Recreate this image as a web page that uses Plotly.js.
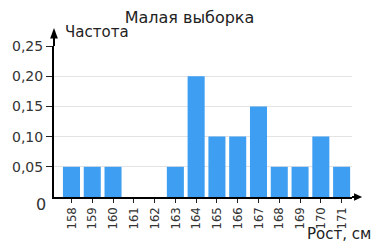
<!DOCTYPE html>
<html><head><meta charset="utf-8">
<script src="https://cdn.plot.ly/plotly-3.0.1.min.js"></script>
<style>html,body{margin:0;padding:0;background:#fff}#c{width:379px;height:242px}</style>
</head><body><div id="c"></div>
<script>
const heights = [158,159,160,161,162,163,164,165,166,167,168,169,170,171];
const freq = [0.05,0.05,0.05,0,0,0.05,0.20,0.10,0.10,0.15,0.05,0.05,0.10,0.05];
const yTicks = [0.05,0.10,0.15,0.20,0.25];
const fnt = '"DejaVu Sans", sans-serif';
const fntNarrow = '"Liberation Sans Narrow", "DejaVu Sans Condensed", sans-serif';

const data = [{
  type:'bar', x:heights, y:freq, width:0.82,
  marker:{color:'#3d9ef2'}, hoverinfo:'none'
}];
const layout = {
  width:379, height:242,
  margin:{l:54, r:27, t:46, b:45},
  paper_bgcolor:'#fff', plot_bgcolor:'#fff',
  separators:', ',
  showlegend:false,
  title:{text:'Малая выборка', x:0.5, xanchor:'center', y:0.93, yanchor:'middle',
         font:{family:fnt, size:16, color:'#222'}},
  xaxis:{range:[157.16,171.5], tickvals:heights, ticktext:heights.map(String),
         tickangle:-90, ticks:'outside', ticklen:4, tickcolor:'#222', tickwidth:1,
         ticklabelstandoff:-1,
         showgrid:false, zeroline:false, showline:true, linecolor:'#000', linewidth:2,
         tickfont:{family:fntNarrow, size:13, color:'#333'}, fixedrange:true},
  yaxis:{range:[0,0.25], tickvals:yTicks, tickformat:'.2f',
         ticks:'outside', ticklen:6, tickcolor:'#222', tickwidth:1,
         showgrid:true, gridcolor:'#e3e3e3', gridwidth:1, zeroline:false,
         showline:true, linecolor:'#000', linewidth:2,
         tickfont:{family:fnt, size:14, color:'#333'}, fixedrange:true},
  shapes:[
    {type:'line', xref:'paper', yref:'paper', x0:0, x1:0, y0:1, y1:1.08, line:{color:'#000', width:2}},
    {type:'path', xref:'paper', yref:'paper', path:'M -0.013 1.05 L 0.013 1.05 L 0 1.12 Z', fillcolor:'#000', line:{width:0}},
    {type:'line', xref:'paper', yref:'paper', x0:1, x1:1.01, y0:0, y1:0, line:{color:'#000', width:2}},
    {type:'path', xref:'paper', yref:'paper', path:'M 1.007 0.025 L 1.007 -0.025 L 1.034 0 Z', fillcolor:'#000', line:{width:0}}
  ],
  annotations:[
    {text:'Частота', xref:'paper', yref:'paper', x:0.03, y:1.09, xanchor:'left', yanchor:'middle', showarrow:false,
     font:{family:fnt, size:15, color:'#222'}},
    {text:'Рост, см', xref:'paper', yref:'paper', x:1.07, y:-0.245, xanchor:'right', yanchor:'middle', showarrow:false,
     font:{family:fnt, size:15, color:'#222'}},
    {text:'0', xref:'paper', yref:'paper', x:-0.02, y:-0.05, xanchor:'right', yanchor:'middle', showarrow:false,
     font:{family:fnt, size:16, color:'#333'}}
  ]
};
Plotly.newPlot('c', data, layout, {staticPlot:true, displayModeBar:false});
</script></body></html>
